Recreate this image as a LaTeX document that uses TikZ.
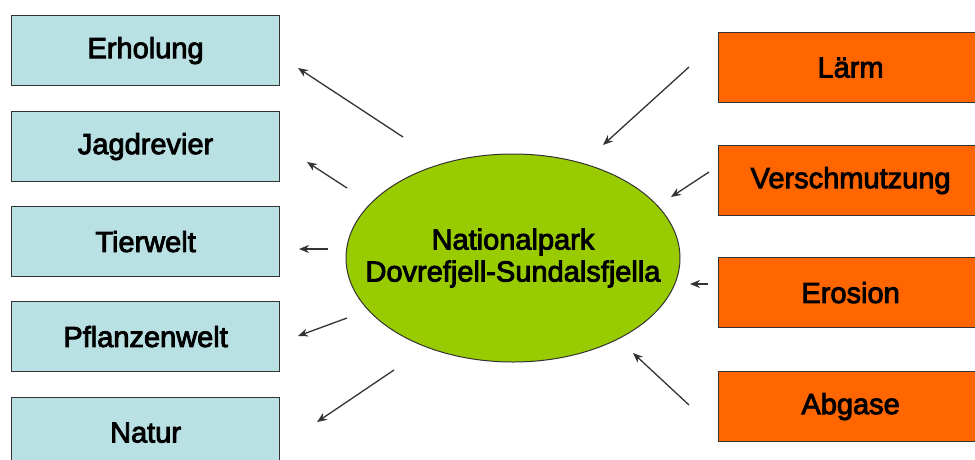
\documentclass[tikz,border=0pt]{standalone}
\usepackage{fontspec}
\setmainfont{Liberation Sans}
\newfontfamily\heavyfont{Liberation Sans}[FakeBold=3]
\usetikzlibrary{shapes.geometric,arrows.meta}
\definecolor{boxblue}{HTML}{B9E0E3}
\definecolor{boxorange}{HTML}{FF6600}
\definecolor{parkgreen}{HTML}{99CC00}
\definecolor{edgegray}{HTML}{333333}
\tikzset{
  lbl/.style={font=\heavyfont\fontsize{29}{33}\selectfont},
  bluebox/.style={draw=edgegray,line width=1.2pt,fill=boxblue,anchor=north west,minimum width=268pt,minimum height=70pt,inner sep=0pt,lbl},
  orangebox/.style={draw=edgegray,line width=1.2pt,fill=boxorange,anchor=north west,minimum width=264pt,minimum height=70pt,inner sep=0pt,lbl},
  parkellipse/.style={ellipse,draw=edgegray,line width=1pt,fill=parkgreen,minimum width=334pt,minimum height=208pt,inner sep=0pt},
  parktextstyle/.style={align=center,inner sep=0pt,font=\heavyfont\fontsize{29}{32}\selectfont},
  arr/.style={draw=edgegray,line width=1.3pt,-{Stealth[length=10pt,width=8pt]}}
}
\begin{document}
\begin{tikzpicture}[x=1pt,y=-1pt]
\useasboundingbox (0,0) rectangle (975,459);
\clip (0,0) rectangle (975,459);
\fill[white] (0,0) rectangle (975,459);
% left boxes
\node[bluebox] (erh) at (11,15) {Erholung};
\node[bluebox] (jag) at (11,111) {Jagdrevier};
\node[bluebox] (tier) at (11,206) {Tierwelt};
\node[bluebox] (pfl) at (11,301) {Pflanzenwelt};
\node[bluebox] (nat) at (11,397) {Natur};
% right boxes
\node[orangebox] (laerm) at (718,32) {Lärm};
\node[orangebox] (versch) at (718,145) {Verschmutzung};
\node[orangebox] (eros) at (718,257) {Erosion};
\node[orangebox] (abg) at (718,371) {Abgase};
% ellipse
\node[parkellipse] (park) at (513,258) {};
\node[parktextstyle] (parktext) at (park.center) {Nationalpark\\Dovrefjell-Sundalsfjella};
% arrow end points
\coordinate (a1s) at (403,137); \coordinate (a1e) at (298,68);
\coordinate (a2s) at (347,188); \coordinate (a2e) at (307,162);
\coordinate (a3s) at (328,249); \coordinate (a3e) at (299,249);
\coordinate (a4s) at (347,318); \coordinate (a4e) at (298,336);
\coordinate (a5s) at (394,370); \coordinate (a5e) at (317,422);
\coordinate (b1s) at (689,67);  \coordinate (b1e) at (603,145);
\coordinate (b2s) at (709,172); \coordinate (b2e) at (671,197);
\coordinate (b3s) at (708,284); \coordinate (b3e) at (690,284);
\coordinate (b4s) at (689,405); \coordinate (b4e) at (633,353);
\draw[arr] (a1s) -- (a1e);
\draw[arr] (a2s) -- (a2e);
\draw[arr] (a3s) -- (a3e);
\draw[arr] (a4s) -- (a4e);
\draw[arr] (a5s) -- (a5e);
\draw[arr] (b1s) -- (b1e);
\draw[arr] (b2s) -- (b2e);
\draw[arr] (b3s) -- (b3e);
\draw[arr] (b4s) -- (b4e);
\end{tikzpicture}
\end{document}
